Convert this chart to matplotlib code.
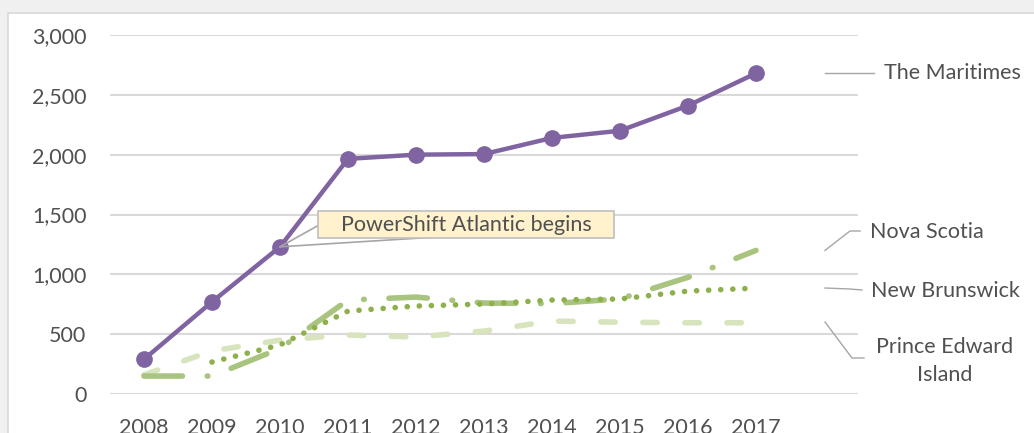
import matplotlib.pyplot as plt
from matplotlib.patches import Rectangle

plt.rcParams['font.family'] = ['Lato', 'DejaVu Sans']
plt.rcParams['lines.scale_dashes'] = False

# data
years = [2008, 2009, 2010, 2011, 2012, 2013, 2014, 2015, 2016, 2017]
maritimes = [290, 770, 1230, 1965, 2000, 2005, 2140, 2200, 2410, 2680]
nova_scotia = [150, 150, 380, 785, 810, 760, 755, 795, 975, 1200]
new_brunswick = [None, 267, 410, 693, 735, 752, 785, 794, 860, 885]
pei = [160, 360, 450, 493, 476, 526, 610, 600, 595, 595]

nb_years = [y for y, v in zip(years, new_brunswick) if v is not None]
nb_vals = [v for v in new_brunswick if v is not None]

fig = plt.figure(figsize=(10.34, 4.33), dpi=100)
fig.patch.set_facecolor('#f0f0f0')
fig.patches.append(Rectangle((8 / 1034, -0.01), 1.0, 1 - 13 / 433 + 0.01,
                             transform=fig.transFigure, facecolor='white',
                             edgecolor='#d9d9d9', linewidth=1.2, zorder=-5))

ax = fig.add_axes([110 / 1034, 1 - 394 / 433, 748 / 1034, 359 / 433])
ax.set_facecolor('none')

txt = '#505050'
grid = '#d9d9d9'
fs = 15.5

ax.set_xlim(2007.5, 2018.5)
ax.set_ylim(0, 3000)
ax.set_yticks(range(0, 3001, 500))
ax.set_yticklabels([f'{v:,}' for v in range(0, 3001, 500)])
ax.set_xticks(years)
ax.set_xticklabels([str(y) for y in years])
ax.yaxis.grid(True, color=grid, linewidth=1.5)
ax.set_axisbelow(True)
for s in ax.spines.values():
    s.set_visible(False)
ax.tick_params(axis='both', length=0, labelsize=fs, labelcolor=txt)
ax.tick_params(axis='y', pad=17)
ax.tick_params(axis='x', pad=17)

# series
ax.plot(years, pei, color='#d7e4bd', linewidth=4,
        dash_capstyle='round', dashes=(10.4, 19.9), zorder=2)
ax.plot(years, nova_scotia, color='#a9c47f', linewidth=4,
        dash_capstyle='round', dashes=(27.7, 17.8, 0.5, 17.8), zorder=3)
ax.plot(nb_years, nb_vals, color='#8db04a', linewidth=4,
        dash_capstyle='round', dashes=(0.1, 8.6), zorder=4)
ax.plot(years, maritimes, color='#8064a2', linewidth=3.2, marker='o',
        markersize=11, zorder=5)

# callout
lead = '#a6a6a6'
px = lambda p: 2007.5 + (p - 110) / 68.0
py = lambda p: (394 - p) / (359 / 3000)
ax.plot([2010, px(319)], [maritimes[2], py(225)], color=lead, lw=1.2, zorder=6)
ax.plot([2010, px(437)], [maritimes[2], py(237)], color=lead, lw=1.2, zorder=6)
ax.add_patch(Rectangle((px(318), py(238)), px(614) - px(318), py(211) - py(238),
                       facecolor='#fff2cc', edgecolor='#bfbfbf',
                       linewidth=1.2, zorder=7))
ax.text(px(466), py(225), 'PowerShift Atlantic begins', fontsize=fs,
        color=txt, ha='center', va='center', zorder=8)

# right-side labels with leader lines
ax.plot([px(825), px(874)], [maritimes[-1]] * 2, color=lead, lw=1, clip_on=False)
ax.text(px(884), maritimes[-1], 'The Maritimes', fontsize=fs, color=txt,
        ha='left', va='center', clip_on=False)

ax.plot([px(825), px(850), px(860)], [nova_scotia[-1], py(231), py(231)],
        color=lead, lw=1, clip_on=False)
ax.text(px(870), py(232), 'Nova Scotia', fontsize=fs, color=txt,
        ha='left', va='center', clip_on=False)

ax.plot([px(825), px(850), px(862)], [py(288), py(289), py(290)],
        color=lead, lw=1, clip_on=False)
ax.text(px(871), py(291), 'New Brunswick', fontsize=fs, color=txt,
        ha='left', va='center', clip_on=False)

ax.plot([px(825), px(852), px(864)], [py(322), py(358), py(358)],
        color=lead, lw=1, clip_on=False)
ax.text(px(945), py(361), 'Prince Edward\nIsland', fontsize=fs, color=txt,
        ha='center', va='center', linespacing=1.5, clip_on=False)

fig.savefig('out.png', dpi=100, facecolor=fig.get_facecolor())
